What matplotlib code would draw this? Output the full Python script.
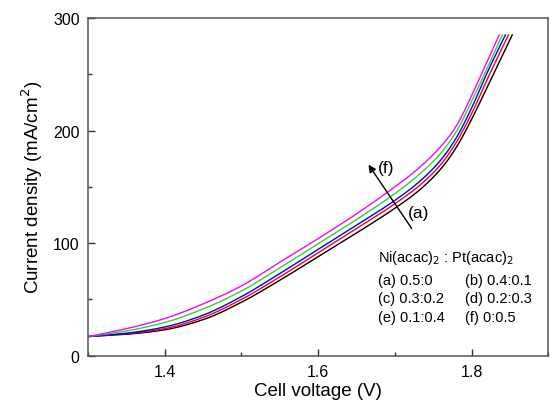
import matplotlib
matplotlib.use("Agg")
import numpy as np
import matplotlib.pyplot as plt
from matplotlib.ticker import MultipleLocator

plt.rcParams['font.family'] = ['Liberation Sans', 'DejaVu Sans']

# Data (cell voltage in V, current density in mA/cm2)
volt_grid = [1.30, 1.35, 1.40, 1.45, 1.50, 1.55, 1.60, 1.65, 1.70, 1.73, 1.76, 1.78, 1.80, 1.82]

j_a = [17, 19.0, 23.0, 32.0, 47.5, 67, 88, 109, 131, 146, 166, 185, 210, 238]
j_b = [17, 19.5, 24.0, 34.0, 50.0, 70, 91.5, 113, 135, 150, 170, 189.5, 215, 245]
j_c = [17, 20.0, 25.5, 36.0, 52.5, 73, 94.5, 116, 138, 153.5, 174, 193.5, 220, 251]
j_e = [17, 22.0, 29.5, 41.5, 57.5, 78, 99.5, 121, 144, 160, 180, 199, 226, 255]
j_f = [17, 24.0, 33.0, 46.0, 62.0, 83, 104, 126, 150, 166, 186, 204, 231, 261]

end_volt = {'a': 1.853, 'b': 1.848, 'c': 1.844, 'e': 1.840, 'f': 1.836}
end_j = 285

series = [('a', j_a, 'black'), ('b', j_b, '#ff0000'), ('c', j_c, '#0000ff'),
          ('e', j_e, '#22dd22'), ('f', j_f, '#ff00ff')]

legend_title = 'Ni(acac)$_2$ : Pt(acac)$_2$'
legend_rows = [('(a) 0.5:0', '(b) 0.4:0.1'),
               ('(c) 0.3:0.2', '(d) 0.2:0.3'),
               ('(e) 0.1:0.4', '(f) 0:0.5')]


def pchip_curve(x, y, n=400):
    """Monotone cubic (Fritsch-Carlson) drawing of the read points."""
    x = np.asarray(x, float)
    y = np.asarray(y, float)
    h = np.diff(x)
    d = np.diff(y) / h
    m = np.zeros_like(y)
    for k in range(1, len(x) - 1):
        if d[k - 1] * d[k] > 0:
            w1 = 2 * h[k] + h[k - 1]
            w2 = h[k] + 2 * h[k - 1]
            m[k] = (w1 + w2) / (w1 / d[k - 1] + w2 / d[k])
    m[0] = d[0]
    m[-1] = d[-1]
    xs = np.linspace(x[0], x[-1], n)
    idx = np.clip(np.searchsorted(x, xs) - 1, 0, len(x) - 2)
    t = (xs - x[idx]) / h[idx]
    h00 = 2 * t**3 - 3 * t**2 + 1
    h10 = t**3 - 2 * t**2 + t
    h01 = -2 * t**3 + 3 * t**2
    h11 = t**3 - t**2
    ys = h00 * y[idx] + h10 * h[idx] * m[idx] + h01 * y[idx + 1] + h11 * h[idx] * m[idx + 1]
    return xs, ys


fig = plt.figure(figsize=(5.53, 4.06), dpi=100)
ax = fig.add_axes([0.159, 0.1214, 0.8325, 0.8316])

for key, jv, col in series:
    xs, ys = pchip_curve(volt_grid + [end_volt[key]], jv + [end_j])
    ax.plot(xs, ys, color=col, lw=1.0)

ax.set_xlim(1.3, 1.9)
ax.set_ylim(0, 300)
ax.xaxis.set_minor_locator(MultipleLocator(0.1))
ax.yaxis.set_minor_locator(MultipleLocator(50))
ax.set_xticks([1.4, 1.6, 1.8])
ax.set_xticklabels(['1.4', '1.6', '1.8'])
ax.set_yticks([0, 100, 200, 300])
ax.set_yticklabels(['0', '100', '200', '300'])

ax.tick_params(which='both', direction='in', color='#333333', labelsize=11.5,
               top=False, right=False)
ax.tick_params(which='major', length=5, width=1.0)
ax.tick_params(which='minor', length=3, width=1.0)
ax.tick_params(axis='x', pad=6)
ax.tick_params(axis='y', pad=6)
for s in ax.spines.values():
    s.set_color('#555555')
    s.set_linewidth(1.1)

ax.set_xlabel('Cell voltage (V)', fontsize=13.5, labelpad=2)
ax.set_ylabel('Current density (mA/cm$^2$)', fontsize=13.5, labelpad=6)

# arrow from (a) to (f)
ax.annotate('', xy=(1.6636, 171.8), xytext=(1.724, 111),
            arrowprops=dict(arrowstyle='-|>', color='black', lw=1.0,
                            mutation_scale=11))
ax.text(1.7176, 127.4, '(a)', fontsize=12.5, va='center', ha='left')
ax.text(1.6778, 167.3, '(f)', fontsize=12.5, va='center', ha='left')

# composition legend
ax.text(1.678, 84.4, legend_title, fontsize=10.5, ha='left', va='baseline')
row_y = [63.7, 47.4, 31.1]
for (left, right), yy in zip(legend_rows, row_y):
    ax.text(1.678, yy, left, fontsize=10.5, ha='left', va='baseline')
    ax.text(1.791, yy, right, fontsize=10.5, ha='left', va='baseline')

fig.savefig('out.png', dpi=100)
